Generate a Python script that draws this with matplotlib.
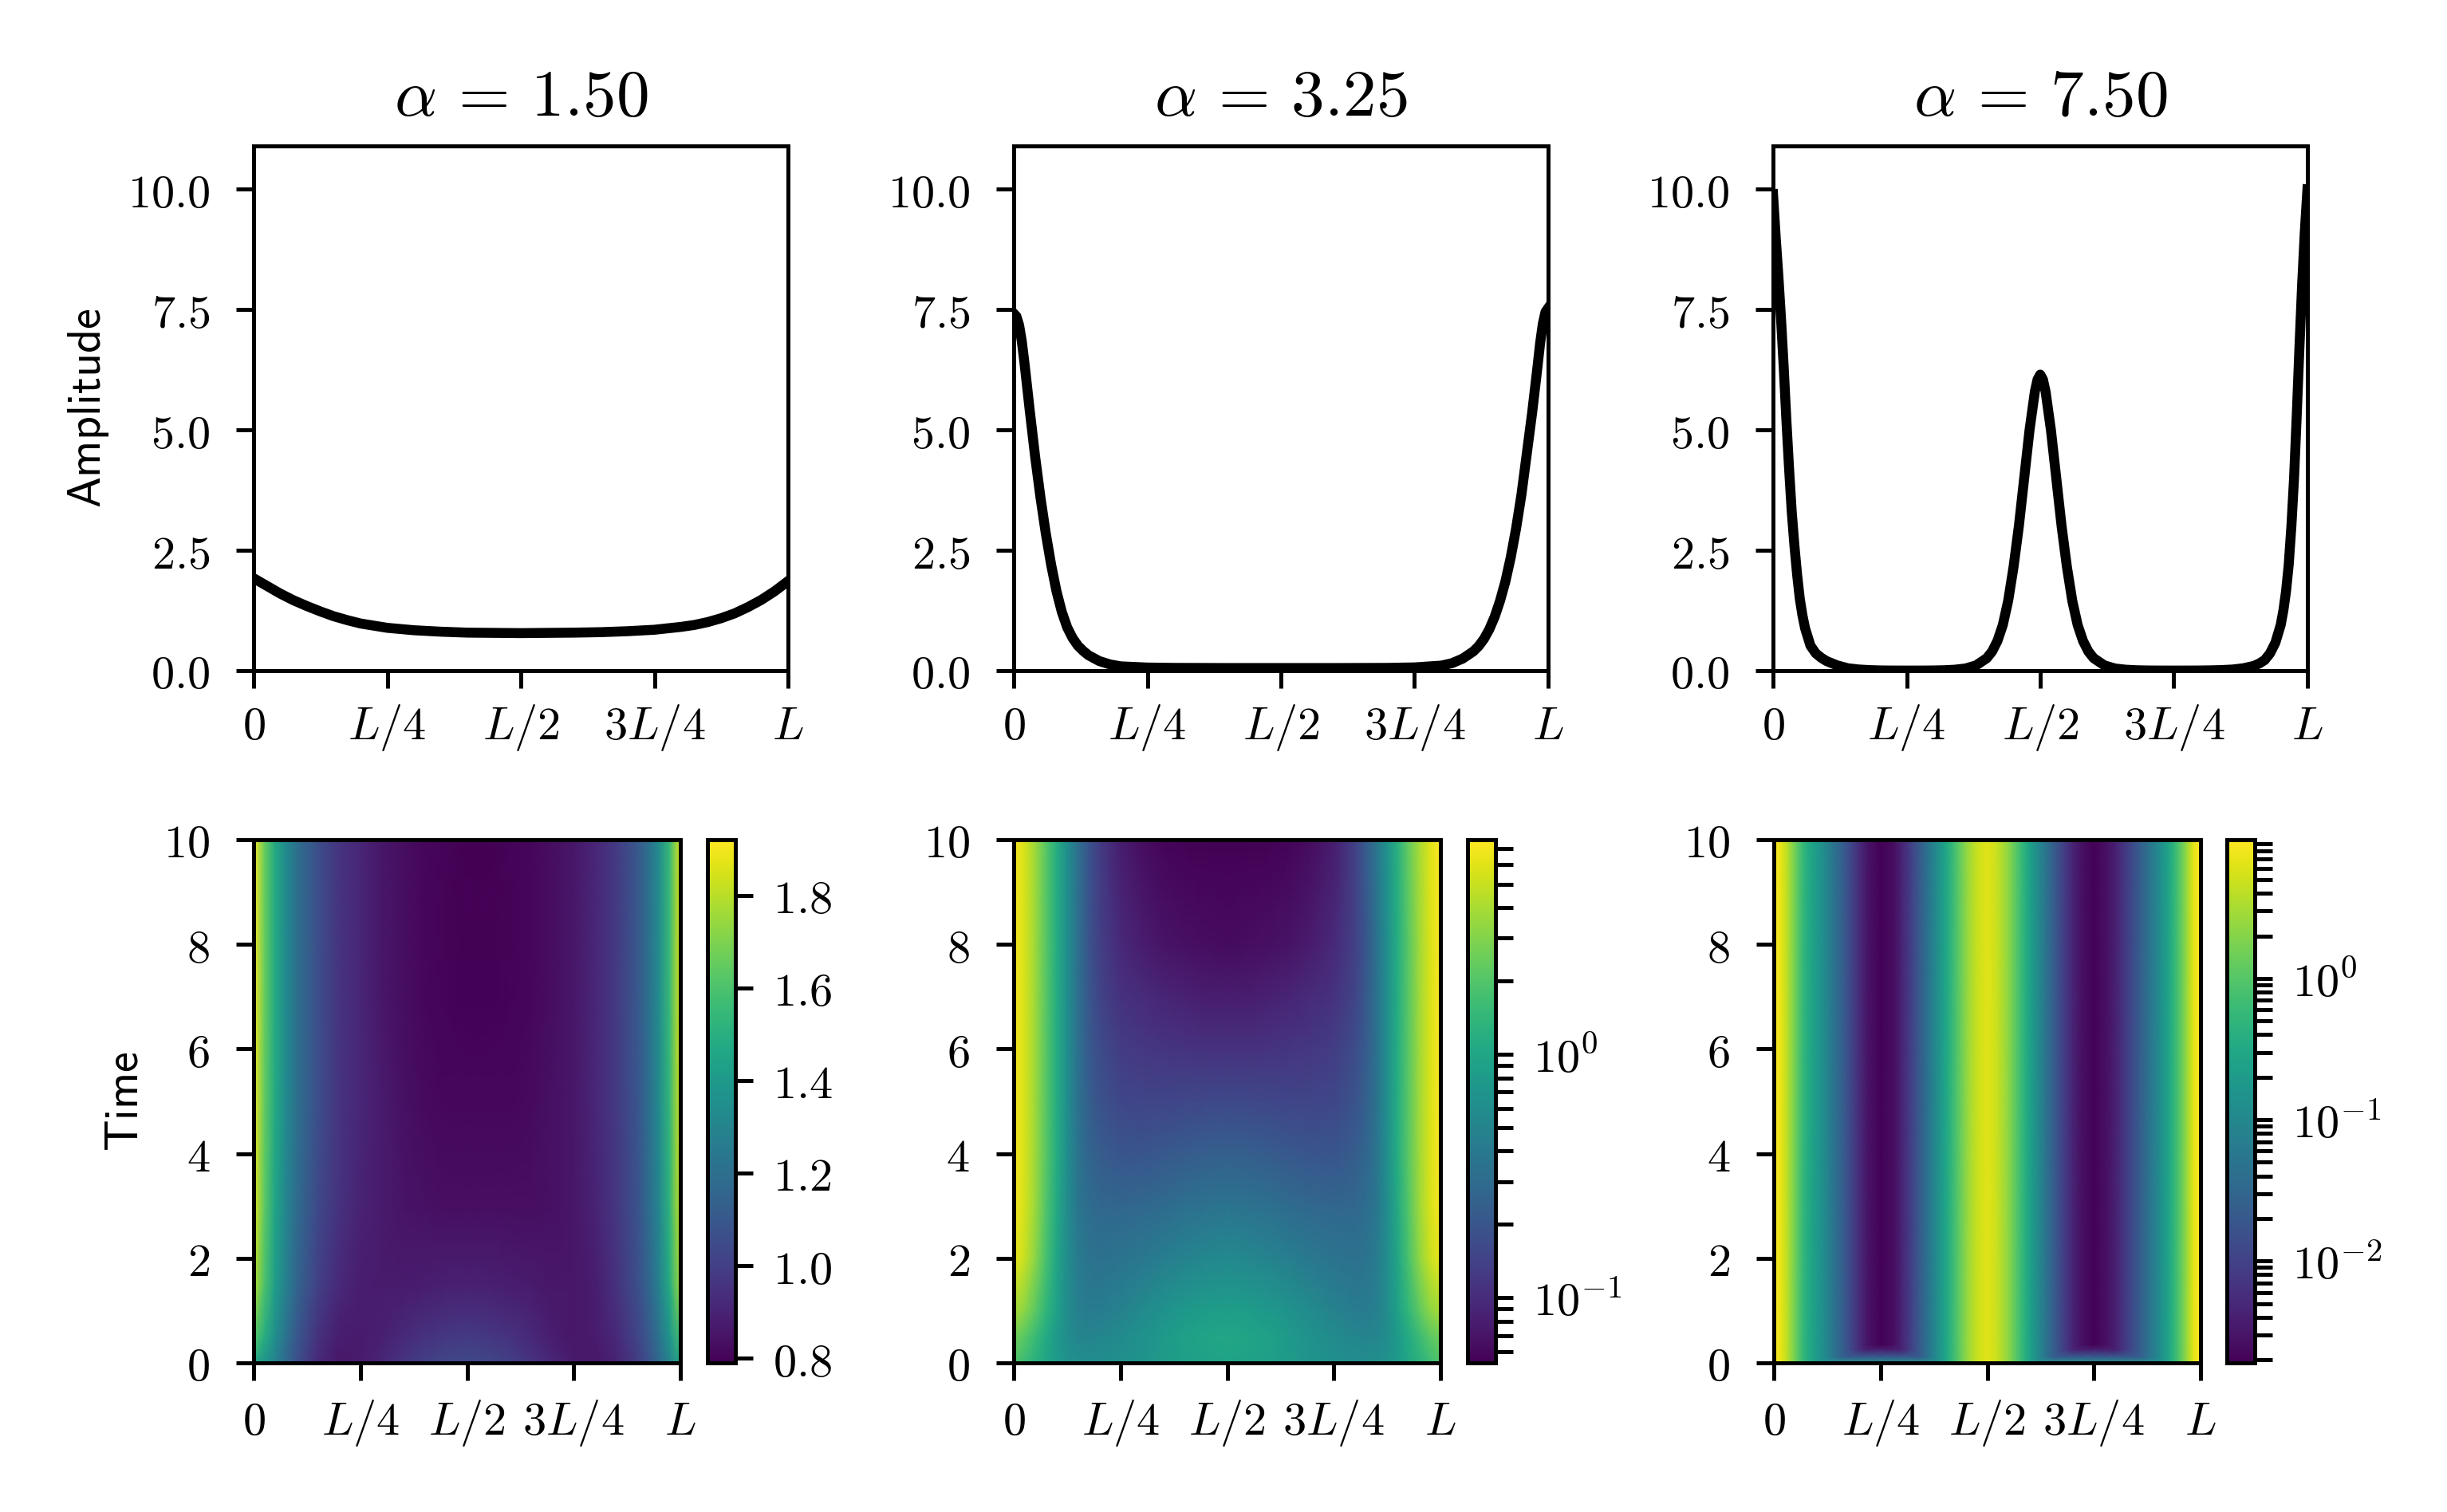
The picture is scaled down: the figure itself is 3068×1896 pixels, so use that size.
import numpy as np
import matplotlib.pyplot as plt
from matplotlib.colors import LogNorm, Normalize
from matplotlib.ticker import LogLocator, NullFormatter

plt.rcParams['mathtext.fontset'] = 'cm'
plt.rcParams['axes.linewidth'] = 0.6
for a in ('xtick', 'ytick'):
    plt.rcParams[a + '.major.size'] = 2.6
    plt.rcParams[a + '.minor.size'] = 2.6
    plt.rcParams[a + '.major.width'] = 0.6
    plt.rcParams[a + '.minor.width'] = 0.6
    plt.rcParams[a + '.labelsize'] = 7

# ---- data (positions in units of L, time in model units) ----
alphas = ['1.50', '3.25', '7.50']
x_ticks = [0, 0.25, 0.5, 0.75, 1.0]
x_ticklabels = ['$0$', '$L/4$', '$L/2$', '$3L/4$', '$L$']
amp_ticks = [0, 2.5, 5.0, 7.5, 10.0]
amp_ticklabels = ['$0.0$', '$2.5$', '$5.0$', '$7.5$', '$10.0$']
time_ticks = [0, 2, 4, 6, 8, 10]
time_ticklabels = ['$0$', '$2$', '$4$', '$6$', '$8$', '$10$']
amp_max = 10.9

# final amplitude profiles (top row)
x1 = [0, 0.025, 0.05, 0.075, 0.1, 0.125, 0.15, 0.175, 0.2, 0.25, 0.3, 0.35, 0.4, 0.5,
      0.6, 0.65, 0.7, 0.75, 0.8, 0.825, 0.85, 0.875, 0.9, 0.925, 0.95, 0.975, 1.0]
a1 = [1.92, 1.76, 1.60, 1.46, 1.34, 1.23, 1.13, 1.05, 0.98, 0.89, 0.84, 0.81, 0.79, 0.78,
      0.79, 0.80, 0.82, 0.85, 0.91, 0.95, 1.01, 1.09, 1.19, 1.32, 1.47, 1.65, 1.86]

x2 = [0, 0.005, 0.01, 0.015, 0.02, 0.03, 0.04, 0.05, 0.06, 0.07, 0.08, 0.09, 0.10, 0.11,
      0.12, 0.13, 0.14, 0.16, 0.18, 0.20, 0.25, 0.30, 0.40, 0.50, 0.60, 0.70, 0.75, 0.80,
      0.82, 0.84, 0.86, 0.87, 0.88, 0.89, 0.90, 0.91, 0.92, 0.93, 0.94, 0.95, 0.96, 0.97,
      0.98, 0.985, 0.99, 0.995, 1.0]
a2 = [7.42, 7.36, 7.18, 6.85, 6.4, 5.4, 4.45, 3.6, 2.85, 2.2, 1.65, 1.22, 0.9, 0.68,
      0.52, 0.41, 0.32, 0.2, 0.13, 0.09, 0.065, 0.058, 0.055, 0.055, 0.055, 0.058, 0.068, 0.105,
      0.155, 0.25, 0.40, 0.51, 0.66, 0.86, 1.12, 1.45, 1.85, 2.35, 2.95, 3.65, 4.5, 5.35,
      6.3, 6.8, 7.2, 7.45, 7.53]

x3 = [0, 0.005, 0.01, 0.015, 0.02, 0.025, 0.03, 0.035, 0.04, 0.045,
      0.05, 0.055, 0.06, 0.07, 0.08, 0.09, 0.1, 0.12, 0.14, 0.16,
      0.18, 0.2, 0.22, 0.25, 0.28, 0.3, 0.32, 0.34, 0.36, 0.38,
      0.4, 0.41, 0.42, 0.43, 0.44, 0.45, 0.46, 0.47, 0.48, 0.49,
      0.495, 0.5, 0.505,
      0.51, 0.52, 0.53, 0.54, 0.55, 0.56, 0.57, 0.58, 0.59,
      0.6, 0.62, 0.64, 0.66, 0.68, 0.7, 0.72, 0.75, 0.78, 0.8,
      0.82, 0.84, 0.86, 0.88, 0.9, 0.91, 0.92, 0.93, 0.94, 0.95,
      0.955, 0.96, 0.965, 0.97, 0.975, 0.98, 0.985, 0.99, 0.995, 1.0]
a3 = [9.9, 9.0, 8.2, 7.3, 6.3, 5.2, 4.2, 3.3, 2.6, 2.0,
      1.5, 1.15, 0.88, 0.52, 0.36, 0.27, 0.2, 0.11, 0.05, 0.025,
      0.012, 0.0055, 0.003, 0.002, 0.0025, 0.0045, 0.009, 0.02, 0.045, 0.11,
      0.26, 0.4, 0.62, 0.95, 1.45, 2.15, 3.0, 4.0, 5.0, 5.8,
      6.05, 6.15, 6.05,
      5.8, 5.0, 4.0, 3.0, 2.15, 1.45, 0.95, 0.62, 0.4,
      0.26, 0.11, 0.045, 0.02, 0.009, 0.0045, 0.0028, 0.002, 0.0028, 0.004,
      0.007, 0.013, 0.024, 0.05, 0.1, 0.15, 0.22, 0.36, 0.58, 0.95,
      1.25, 1.65, 2.2, 3.0, 4.0, 5.3, 6.7, 8.0, 9.1, 10.0]

# space-time fields (bottom row): rows are times, columns positions
xh1 = [0, 0.025, 0.05, 0.075, 0.1, 0.15, 0.2, 0.25, 0.3, 0.35, 0.4, 0.45, 0.5,
       0.55, 0.6, 0.65, 0.7, 0.75, 0.8, 0.85, 0.9, 0.925, 0.95, 0.975, 1.0]
th1 = [0, 0.5, 1.5, 3, 5, 7, 10]
field1 = [
    [1.45, 1.38, 1.28, 1.17, 1.07, 0.92, 0.86, 0.87, 0.91, 0.96, 1.00, 1.03, 1.04,
     1.03, 1.00, 0.96, 0.91, 0.87, 0.86, 0.90, 0.99, 1.07, 1.17, 1.30, 1.45],
    [1.62, 1.50, 1.35, 1.22, 1.10, 0.95, 0.88, 0.87, 0.89, 0.92, 0.95, 0.97, 0.98,
     0.97, 0.95, 0.92, 0.88, 0.86, 0.87, 0.92, 1.02, 1.10, 1.22, 1.38, 1.58],
    [1.80, 1.60, 1.42, 1.28, 1.16, 1.01, 0.92, 0.88, 0.87, 0.87, 0.88, 0.89, 0.89,
     0.89, 0.88, 0.87, 0.86, 0.86, 0.88, 0.95, 1.06, 1.15, 1.28, 1.48, 1.75],
    [1.88, 1.64, 1.45, 1.31, 1.19, 1.04, 0.95, 0.90, 0.87, 0.85, 0.84, 0.83, 0.83,
     0.83, 0.83, 0.83, 0.84, 0.86, 0.90, 0.97, 1.08, 1.18, 1.31, 1.52, 1.82],
    [1.90, 1.65, 1.47, 1.33, 1.21, 1.06, 0.96, 0.91, 0.87, 0.84, 0.82, 0.81, 0.81,
     0.81, 0.81, 0.82, 0.84, 0.86, 0.91, 0.98, 1.09, 1.19, 1.33, 1.54, 1.84],
    [1.91, 1.66, 1.47, 1.33, 1.21, 1.06, 0.96, 0.91, 0.86, 0.83, 0.81, 0.80, 0.795,
     0.795, 0.80, 0.81, 0.83, 0.86, 0.91, 0.98, 1.10, 1.20, 1.34, 1.55, 1.85],
    [1.92, 1.66, 1.47, 1.33, 1.21, 1.06, 0.96, 0.91, 0.86, 0.83, 0.81, 0.80, 0.79,
     0.79, 0.80, 0.81, 0.83, 0.86, 0.91, 0.98, 1.10, 1.20, 1.34, 1.55, 1.86],
]

xh2 = [0, 0.025, 0.05, 0.075, 0.1, 0.125, 0.15, 0.175, 0.2, 0.25, 0.3, 0.35, 0.4, 0.45, 0.5,
       0.55, 0.6, 0.65, 0.7, 0.75, 0.8, 0.825, 0.85, 0.875, 0.9, 0.925, 0.95, 0.975, 1.0]
th2 = [0, 0.5, 1, 2, 3, 4, 5, 6, 7, 8, 10]
field2 = [
    [1.9, 1.55, 1.25, 1.0, 0.8, 0.68, 0.62, 0.6, 0.6, 0.64, 0.7, 0.78, 0.86, 0.92, 0.95,
     0.92, 0.86, 0.78, 0.7, 0.64, 0.6, 0.6, 0.62, 0.68, 0.8, 1.0, 1.25, 1.55, 1.9],
    [2.6, 2.1, 1.55, 1.1, 0.78, 0.6, 0.52, 0.5, 0.52, 0.58, 0.66, 0.77, 0.88, 0.97, 1.0,
     0.97, 0.88, 0.77, 0.66, 0.58, 0.52, 0.5, 0.52, 0.6, 0.78, 1.1, 1.55, 2.1, 2.6],
    [4.0, 3.2, 2.2, 1.4, 0.9, 0.6, 0.46, 0.42, 0.42, 0.48, 0.56, 0.66, 0.75, 0.82, 0.85,
     0.82, 0.75, 0.66, 0.56, 0.48, 0.42, 0.42, 0.46, 0.6, 0.9, 1.4, 2.2, 3.2, 4.0],
    [6.6, 5.0, 3.2, 1.8, 1.0, 0.6, 0.42, 0.36, 0.34, 0.36, 0.39, 0.44, 0.49, 0.53, 0.55,
     0.53, 0.49, 0.44, 0.39, 0.36, 0.34, 0.36, 0.42, 0.6, 1.0, 1.8, 3.2, 5.0, 6.6],
    [7.3, 5.5, 3.6, 2.0, 1.1, 0.6, 0.38, 0.31, 0.28, 0.27, 0.28, 0.3, 0.33, 0.35, 0.36,
     0.35, 0.33, 0.3, 0.28, 0.27, 0.28, 0.31, 0.38, 0.6, 1.1, 2.0, 3.6, 5.5, 7.3],
    [7.4, 5.6, 3.7, 2.1, 1.15, 0.62, 0.36, 0.27, 0.23, 0.2, 0.2, 0.21, 0.225, 0.235, 0.24,
     0.235, 0.225, 0.21, 0.2, 0.2, 0.23, 0.27, 0.36, 0.62, 1.15, 2.1, 3.7, 5.6, 7.4],
    [7.4, 5.6, 3.7, 2.1, 1.15, 0.62, 0.35, 0.24, 0.19, 0.155, 0.15, 0.15, 0.155, 0.158, 0.16,
     0.158, 0.155, 0.15, 0.15, 0.155, 0.19, 0.24, 0.35, 0.62, 1.15, 2.1, 3.7, 5.6, 7.4],
    [7.4, 5.6, 3.7, 2.1, 1.15, 0.62, 0.34, 0.22, 0.17, 0.13, 0.12, 0.115, 0.112, 0.11, 0.11,
     0.11, 0.112, 0.115, 0.12, 0.13, 0.17, 0.22, 0.34, 0.62, 1.15, 2.1, 3.7, 5.6, 7.4],
    [7.4, 5.6, 3.7, 2.1, 1.15, 0.62, 0.34, 0.21, 0.15, 0.11, 0.1, 0.09, 0.085, 0.081, 0.08,
     0.081, 0.085, 0.09, 0.1, 0.11, 0.15, 0.21, 0.34, 0.62, 1.15, 2.1, 3.7, 5.6, 7.4],
    [7.4, 5.6, 3.7, 2.1, 1.15, 0.62, 0.34, 0.2, 0.14, 0.095, 0.08, 0.07, 0.066, 0.064, 0.063,
     0.064, 0.066, 0.07, 0.08, 0.095, 0.14, 0.2, 0.34, 0.62, 1.15, 2.1, 3.7, 5.6, 7.4],
    [7.4, 5.6, 3.7, 2.1, 1.15, 0.62, 0.34, 0.2, 0.13, 0.08, 0.065, 0.058, 0.056, 0.055, 0.055,
     0.055, 0.056, 0.058, 0.065, 0.08, 0.14, 0.22, 0.38, 0.68, 1.25, 2.3, 3.9, 5.8, 7.5],
]

th3 = [0, 0.12, 0.25, 0.35, 10]
field3_t0 = [9.9, 9.0, 8.2, 7.3, 6.3, 5.2, 4.2, 3.3, 2.6, 2.0,
             1.5, 1.15, 0.88, 0.52, 0.36, 0.27, 0.2, 0.12, 0.12, 0.12,
             0.12, 0.12, 0.12, 0.12, 0.12, 0.12, 0.12, 0.12, 0.12, 0.12,
             0.26, 0.4, 0.62, 0.95, 1.45, 2.15, 3.0, 4.0, 5.0, 5.8,
             6.05, 6.15, 6.05,
             5.8, 5.0, 4.0, 3.0, 2.15, 1.45, 0.95, 0.62, 0.4,
             0.26, 0.12, 0.12, 0.12, 0.12, 0.12, 0.12, 0.12, 0.12, 0.12,
             0.12, 0.12, 0.12, 0.12, 0.12, 0.15, 0.22, 0.36, 0.58, 0.95,
             1.25, 1.65, 2.2, 3.0, 4.0, 5.3, 6.7, 8.0, 9.1, 10.0]
field3_t1 = [9.9, 9.0, 8.2, 7.3, 6.3, 5.2, 4.2, 3.3, 2.6, 2.0,
             1.5, 1.15, 0.88, 0.52, 0.36, 0.27, 0.2, 0.11, 0.05, 0.025,
             0.02, 0.02, 0.02, 0.02, 0.02, 0.02, 0.02, 0.02, 0.045, 0.11,
             0.26, 0.4, 0.62, 0.95, 1.45, 2.15, 3.0, 4.0, 5.0, 5.8,
             6.05, 6.15, 6.05,
             5.8, 5.0, 4.0, 3.0, 2.15, 1.45, 0.95, 0.62, 0.4,
             0.26, 0.11, 0.045, 0.02, 0.02, 0.02, 0.02, 0.02, 0.02, 0.02,
             0.02, 0.02, 0.024, 0.05, 0.1, 0.15, 0.22, 0.36, 0.58, 0.95,
             1.25, 1.65, 2.2, 3.0, 4.0, 5.3, 6.7, 8.0, 9.1, 10.0]
field3_t2 = [9.9, 9.0, 8.2, 7.3, 6.3, 5.2, 4.2, 3.3, 2.6, 2.0,
             1.5, 1.15, 0.88, 0.52, 0.36, 0.27, 0.2, 0.11, 0.05, 0.025,
             0.012, 0.0055, 0.004, 0.004, 0.004, 0.0045, 0.009, 0.02, 0.045, 0.11,
             0.26, 0.4, 0.62, 0.95, 1.45, 2.15, 3.0, 4.0, 5.0, 5.8,
             6.05, 6.15, 6.05,
             5.8, 5.0, 4.0, 3.0, 2.15, 1.45, 0.95, 0.62, 0.4,
             0.26, 0.11, 0.045, 0.02, 0.009, 0.0045, 0.004, 0.004, 0.004, 0.004,
             0.007, 0.013, 0.024, 0.05, 0.1, 0.15, 0.22, 0.36, 0.58, 0.95,
             1.25, 1.65, 2.2, 3.0, 4.0, 5.3, 6.7, 8.0, 9.1, 10.0]
# after t ~ 0.35 the pattern no longer changes: it is the final profile
field3 = [field3_t0, field3_t1, field3_t2, a3, a3]

# colour limits of the three colour bars
clim1 = (0.79, 1.92)
clim2 = (0.054, 7.6)
clim3 = (0.0019, 9.6)
cbar1_ticks = [0.8, 1.0, 1.2, 1.4, 1.6, 1.8]
cbar1_labels = ['$0.8$', '$1.0$', '$1.2$', '$1.4$', '$1.6$', '$1.8$']
cbar2_ticks = [0.1, 1.0]
cbar2_labels = ['$10^{-1}$', '$10^{0}$']
cbar3_ticks = [0.01, 0.1, 1.0]
cbar3_labels = ['$10^{-2}$', '$10^{-1}$', '$10^{0}$']

# ---- figure ----
W, H = 3068, 1896
fig = plt.figure(figsize=(W / 600, H / 600), dpi=600)


def box(x0, y0, w, h):
    return [x0 / W, 1 - (y0 + h) / H, w / W, h / H]


top_x = [318, 1271, 2223]
heat_x = [318, 1271, 2224]
cbar_x = [887, 1840, 2792]

profiles = [(x1, a1), (x2, a2), (x3, a3)]
fields = [(xh1, th1, field1), (xh2, th2, field2), (x3, th3, field3)]
norms = [Normalize(*clim1), LogNorm(*clim2), LogNorm(*clim3)]
cticks = [(cbar1_ticks, cbar1_labels), (cbar2_ticks, cbar2_labels), (cbar3_ticks, cbar3_labels)]


def L_ticks(ax, pad):
    ax.set_xticks(x_ticks, x_ticklabels)
    ax.tick_params(axis='x', pad=pad)
    for lab in ax.get_xticklabels():
        lab.set_va('baseline')


for i in range(3):
    # amplitude profile
    ax = fig.add_axes(box(top_x[i], 183, 670, 658))
    ax.plot(profiles[i][0], profiles[i][1], color='k', lw=1.5)
    ax.set_xlim(0, 1)
    ax.set_ylim(0, amp_max)
    ax.set_yticks(amp_ticks, amp_ticklabels)
    ax.tick_params(axis='y', pad=4)
    L_ticks(ax, 7.7)
    ax.set_title(r'$\alpha\,=\,%s$' % alphas[i], fontsize=10, pad=4.6)
    if i == 0:
        ax.set_ylabel(r'$\mathsf{Amplitude}$', fontsize=7, labelpad=2.5)

    # space-time map
    hx = fig.add_axes(box(heat_x[i], 1053, 535, 656))
    xs, ts, z = fields[i]
    mesh = hx.pcolormesh(np.array(xs), np.array(ts), np.array(z), shading='gouraud',
                         cmap='viridis', norm=norms[i])
    hx.set_xlim(0, 1)
    hx.set_ylim(0, 10)
    hx.set_yticks(time_ticks, time_ticklabels)
    hx.tick_params(axis='y', pad=4)
    L_ticks(hx, 8.2)
    if i == 0:
        hx.set_ylabel(r'$\mathsf{Time}$', fontsize=7, labelpad=2.5)

    cax = fig.add_axes(box(cbar_x[i], 1053, 35, 656))
    cb = fig.colorbar(mesh, cax=cax)
    cb.outline.set_linewidth(0.6)
    if i > 0:
        cax.yaxis.set_minor_locator(LogLocator(base=10, subs=np.arange(2, 10)))
        cax.yaxis.set_minor_formatter(NullFormatter())
    cb.set_ticks(cticks[i][0], labels=cticks[i][1])
    cax.tick_params(which='both', pad=3, labelsize=7)

fig.savefig('out.png', dpi=600)
